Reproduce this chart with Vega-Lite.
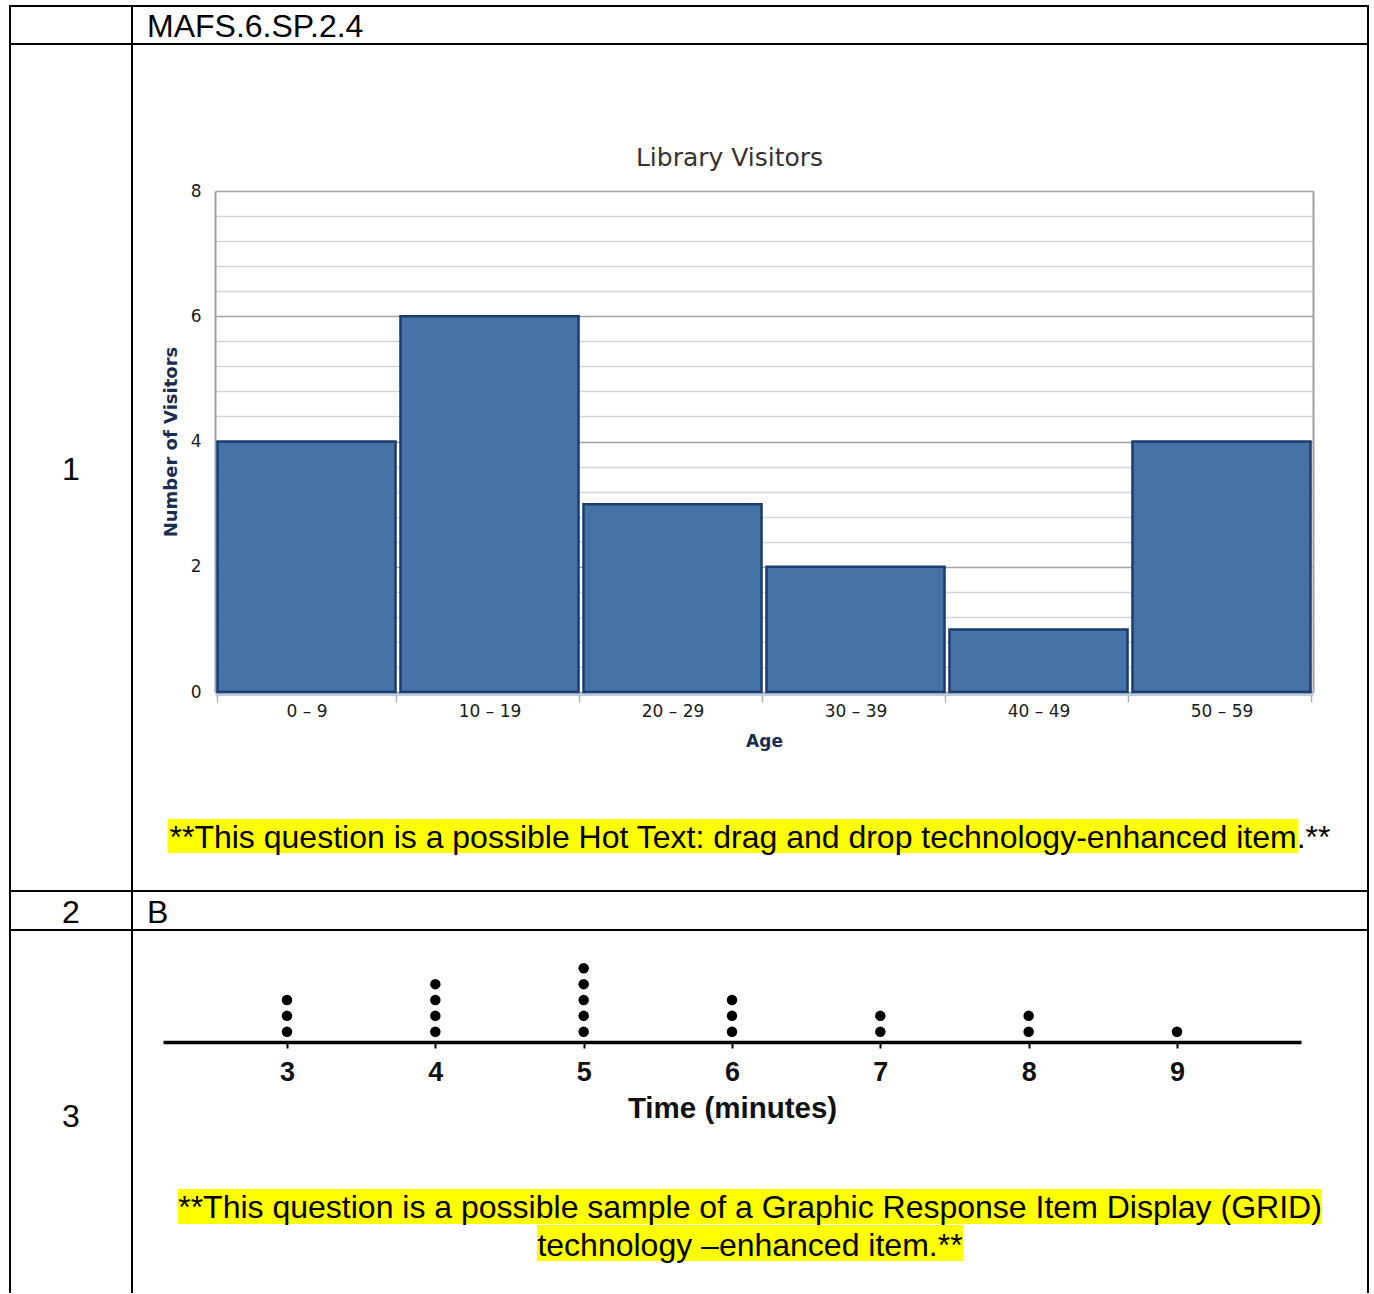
{
  "$schema": "https://vega.github.io/schema/vega-lite/v6.json",
  "padding": {"left": 9, "top": 5, "right": 0, "bottom": 0},
  "background": "white",
  "columns": 2,
  "spacing": 0,
  "align": "each",
  "bounds": "flush",
  "config": {
    "view": {"stroke": "black", "strokeWidth": 2},
    "text": {"font": "Liberation Sans", "fontSize": 32, "color": "black"}
  },
  "datasets": {
    "visitors": [
      {"age": "0 – 9", "visitors": 4},
      {"age": "10 – 19", "visitors": 6},
      {"age": "20 – 29", "visitors": 3},
      {"age": "30 – 39", "visitors": 2},
      {"age": "40 – 49", "visitors": 1},
      {"age": "50 – 59", "visitors": 4}
    ],
    "times": [
      {"minutes": 3}, {"minutes": 3}, {"minutes": 3},
      {"minutes": 4}, {"minutes": 4}, {"minutes": 4}, {"minutes": 4},
      {"minutes": 5}, {"minutes": 5}, {"minutes": 5}, {"minutes": 5}, {"minutes": 5},
      {"minutes": 6}, {"minutes": 6}, {"minutes": 6},
      {"minutes": 7}, {"minutes": 7},
      {"minutes": 8}, {"minutes": 8},
      {"minutes": 9}
    ]
  },
  "concat": [
    {
      "width": 122, "height": 38,
      "data": {"values": [{"item": ""}]},
      "mark": {"type": "text", "baseline": "middle"},
      "encoding": {
        "x": {"datum": 0.5, "type": "quantitative", "scale": {"domain": [0, 1]}, "axis": null},
        "y": {"datum": 0.5, "type": "quantitative", "scale": {"domain": [0, 1]}, "axis": null},
        "text": {"field": "item", "type": "nominal"}
      }
    },
    {
      "width": 1236, "height": 38,
      "data": {"values": [{"standard": "MAFS.6.SP.2.4"}]},
      "mark": {"type": "text", "align": "left", "baseline": "middle", "dx": 15, "dy": 2},
      "encoding": {
        "x": {"datum": 0, "type": "quantitative", "scale": {"domain": [0, 1]}, "axis": null},
        "text": {"field": "standard", "type": "nominal"}
      }
    },
    {
      "width": 122, "height": 847,
      "data": {"values": [{"item": "1"}]},
      "mark": {"type": "text", "baseline": "middle", "dy": 2},
      "encoding": {
        "x": {"datum": 0.5, "type": "quantitative", "scale": {"domain": [0, 1]}, "axis": null},
        "y": {"datum": 0.5, "type": "quantitative", "scale": {"domain": [0, 1]}, "axis": null},
        "text": {"field": "item", "type": "nominal"}
      }
    },
    {
      "width": 1236, "height": 847,
      "resolve": {"scale": {"y": "shared"}, "axis": {"y": "independent"}},
      "layer": [
        {
          "data": {"name": "visitors"},
          "mark": {"type": "bar", "fill": "#4572a7", "stroke": "#1d3c6e", "strokeWidth": 2.5},
          "encoding": {
            "x": {
              "field": "age", "type": "nominal", "sort": null,
              "scale": {"range": [83, 1181], "paddingInner": 0.027, "paddingOuter": 0.0135},
              "axis": {
                "title": "Age", "orient": "bottom", "offset": -197, "labelAngle": 0,
                "tickBand": "extent", "domainColor": "#b8cbe1", "domainWidth": 3,
                "tickColor": "#b0b0b0", "tickWidth": 1.5, "tickSize": 8, "labelPadding": 1,
                "labelFont": "DejaVu Sans", "labelFontSize": 17, "labelColor": "#1a1a1a",
                "titleFont": "DejaVu Sans", "titleFontSize": 17, "titleFontWeight": "bold",
                "titleColor": "#1b2d4f", "titlePadding": 14
              }
            },
            "y": {
              "field": "visitors", "type": "quantitative",
              "scale": {"domain": [0, 8], "range": [648, 147], "nice": false, "zero": true},
              "axis": {
                "orient": "left", "offset": -83,
                "values": [0, 0.4, 0.8, 1.2, 1.6, 2, 2.4, 2.8, 3.2, 3.6, 4, 4.4, 4.8, 5.2, 5.6, 6, 6.4, 6.8, 7.2, 7.6, 8],
                "tickCount": 50,
                "tickMinStep": 0.1,
                "labelExpr": "datum.value % 2 === 0 ? '' + datum.value : ''",
                "labelOverlap": false, "ticks": false, "tickSize": 0, "labelPadding": 14,
                "domainColor": "#a0a0a0", "domainWidth": 2,
                "grid": true,
                "gridColor": {"condition": {"test": "datum.value % 2 === 0", "value": "#a2a2a2"}, "value": "#d4d4d4"},
                "gridWidth": 1.6,
                "labelFont": "DejaVu Sans", "labelFontSize": 17, "labelColor": "#1a1a1a",
                "title": "Number of Visitors", "titleFont": "DejaVu Sans", "titleFontSize": 18,
                "titleFontWeight": "bold", "titleColor": "#1b2d4f", "titlePadding": 10
              }
            }
          }
        },
        {
          "data": {"values": [{"title": "Library Visitors"}]},
          "mark": {"type": "text", "font": "DejaVu Sans", "fontSize": 25, "color": "#333333", "baseline": "middle", "dx": -20.5, "dy": -33},
          "encoding": {
            "y": {
              "datum": 8, "type": "quantitative",
              "scale": {"domain": [0, 8], "range": [648, 147], "nice": false, "zero": true},
              "axis": {"orient": "right", "offset": -55, "labels": false, "ticks": false, "grid": false, "title": null, "domainColor": "#a0a0a0", "domainWidth": 2}
            },
            "text": {"field": "title", "type": "nominal"}
          }
        },
        {
          "data": {"values": [{"note": "**This question is a possible Hot Text: drag and drop technology-enhanced item.**"}]},
          "mark": {"type": "bar", "fill": "#ffff00", "width": 1131, "xOffset": -17},
          "encoding": {
            "y": {"datum": -2.028, "type": "quantitative", "scale": {"domain": [0, 8], "range": [648, 147], "nice": false, "zero": true}, "axis": null},
            "y2": {"datum": -2.571}
          }
        },
        {
          "data": {"values": [{"note": "**This question is a possible Hot Text: drag and drop technology-enhanced item.**"}]},
          "mark": {"type": "text", "baseline": "middle"},
          "encoding": {
            "y": {"datum": -2.33, "type": "quantitative", "scale": {"domain": [0, 8], "range": [648, 147], "nice": false, "zero": true}, "axis": null},
            "text": {"field": "note", "type": "nominal"}
          }
        }
      ]
    },
    {
      "width": 122, "height": 39,
      "data": {"values": [{"item": "2"}]},
      "mark": {"type": "text", "baseline": "middle", "dy": 2},
      "encoding": {
        "x": {"datum": 0.5, "type": "quantitative", "scale": {"domain": [0, 1]}, "axis": null},
        "y": {"datum": 0.5, "type": "quantitative", "scale": {"domain": [0, 1]}, "axis": null},
        "text": {"field": "item", "type": "nominal"}
      }
    },
    {
      "width": 1236, "height": 39,
      "data": {"values": [{"answer": "B"}]},
      "mark": {"type": "text", "align": "left", "baseline": "middle", "dx": 15, "dy": 2},
      "encoding": {
        "x": {"datum": 0, "type": "quantitative", "scale": {"domain": [0, 1]}, "axis": null},
        "text": {"field": "answer", "type": "nominal"}
      }
    },
    {
      "width": 122, "height": 363,
      "view": {"strokeDash": [485, 122, 363, 0]},
      "data": {"values": [{"item": "3"}]},
      "mark": {"type": "text", "baseline": "middle", "dy": 5.5},
      "encoding": {
        "x": {"datum": 0.5, "type": "quantitative", "scale": {"domain": [0, 1]}, "axis": null},
        "y": {"datum": 0.5, "type": "quantitative", "scale": {"domain": [0, 1]}, "axis": null},
        "text": {"field": "item", "type": "nominal"}
      }
    },
    {
      "width": 1236, "height": 363,
      "view": {"strokeDash": [1599, 1236, 363, 0]},
      "layer": [
        {
          "data": {"name": "times"},
          "transform": [{"window": [{"op": "count", "as": "stack"}], "groupby": ["minutes"]}],
          "mark": {"type": "circle", "size": 110, "color": "black", "opacity": 1},
          "encoding": {
            "x": {
              "field": "minutes", "type": "quantitative",
              "scale": {"domain": [2.164, 9.836], "range": [31, 1169], "nice": false, "zero": false},
              "axis": {
                "orient": "bottom", "offset": -251, "values": [3, 4, 5, 6, 7, 8, 9], "grid": false,
                "domainColor": "black", "domainWidth": 3.5, "tickColor": "black", "tickWidth": 2, "tickSize": 6,
                "labelFont": "Liberation Sans", "labelFontWeight": "bold", "labelFontSize": 27, "labelColor": "#111111", "labelPadding": 11,
                "title": "Time (minutes)", "titleFont": "Liberation Sans", "titleFontWeight": "bold", "titleFontSize": 29.5,
                "titleColor": "#111111", "titlePadding": 9
              }
            },
            "y": {
              "field": "stack", "type": "quantitative",
              "scale": {"domain": [1, 5], "range": [101.7, 38.3], "nice": false, "zero": false},
              "axis": null
            }
          }
        },
        {
          "data": {"values": [{"note": "**This question is a possible sample of a Graphic Response Item Display (GRID)"}]},
          "mark": {"type": "bar", "fill": "#ffff00", "width": 1144},
          "encoding": {
            "y": {"datum": -8.924, "type": "quantitative", "scale": {"domain": [1, 5], "range": [101.7, 38.3], "nice": false, "zero": false}, "axis": null},
            "y2": {"datum": -11.133}
          }
        },
        {
          "data": {"values": [{"note": "technology –enhanced item.**"}]},
          "mark": {"type": "bar", "fill": "#ffff00", "width": 426},
          "encoding": {
            "y": {"datum": -11.196, "type": "quantitative", "scale": {"domain": [1, 5], "range": [101.7, 38.3], "nice": false, "zero": false}, "axis": null},
            "y2": {"datum": -13.467}
          }
        },
        {
          "data": {"values": [{"note": "**This question is a possible sample of a Graphic Response Item Display (GRID)"}]},
          "mark": {"type": "text", "baseline": "middle"},
          "encoding": {
            "y": {"datum": -10.11, "type": "quantitative", "scale": {"domain": [1, 5], "range": [101.7, 38.3], "nice": false, "zero": false}, "axis": null},
            "text": {"field": "note", "type": "nominal"}
          }
        },
        {
          "data": {"values": [{"note": "technology –enhanced item.**"}]},
          "mark": {"type": "text", "baseline": "middle"},
          "encoding": {
            "y": {"datum": -12.51, "type": "quantitative", "scale": {"domain": [1, 5], "range": [101.7, 38.3], "nice": false, "zero": false}, "axis": null},
            "text": {"field": "note", "type": "nominal"}
          }
        }
      ]
    }
  ]
}
